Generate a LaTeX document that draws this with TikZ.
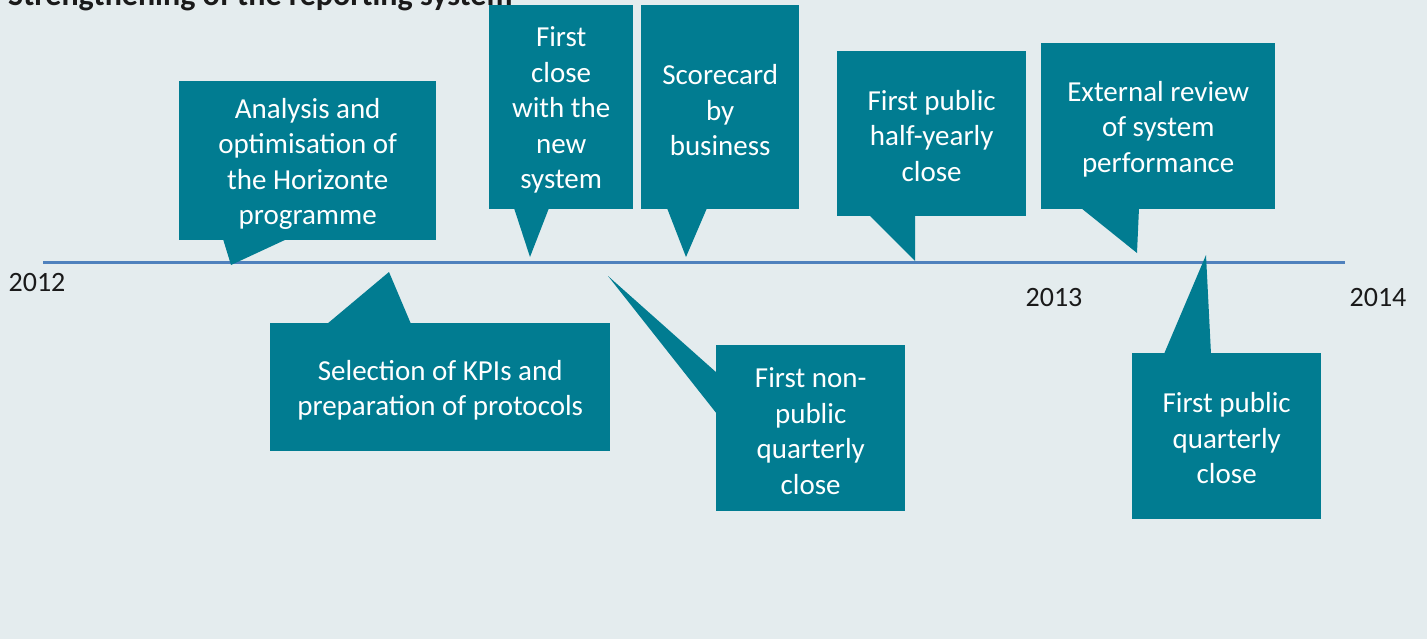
\documentclass[tikz,border=0pt]{standalone}
\usepackage{fontspec}
\setmainfont{Carlito}
\definecolor{bg}{HTML}{E4ECEE}
\definecolor{teal}{HTML}{017C91}
\definecolor{tline}{HTML}{4F81BD}
\definecolor{ink}{HTML}{1A1A1A}
\begin{document}
\begin{tikzpicture}[x=1pt,y=-1pt,
  box/.style={fill=teal,draw=none,inner sep=0pt,anchor=north west},
  btext/.style={text=white,align=center,inner sep=0pt,
    font=\fontsize{29}{35.5}\selectfont},
  ptr/.style={fill=teal,draw=none},
  year/.style={text=ink,font=\fontsize{28}{32}\selectfont,inner sep=0pt}]
\fill[bg] (0,0) rectangle (1427,639);
\useasboundingbox (0,0) rectangle (1427,639);
% timeline
\draw[tline,line width=3pt] (43,262) coordinate (ls) -- (1345,262) coordinate (le);
% boxes
\node[box,minimum width=257pt,minimum height=159pt] (b1) at (179,81) {};
\node[btext] (b1t) at ([yshift=-3pt]b1.center) {Analysis and\\optimisation of\\the Horizonte\\programme};
\fill[ptr] (223,239) -- (231,265) coordinate (t1) -- (287,239) -- cycle;
\node[box,minimum width=340pt,minimum height=128pt] (b2) at (270,323) {};
\node[btext] (b2t) at ([yshift=-3pt]b2.center) {Selection of KPIs and\\preparation of protocols};
\fill[ptr] (327,324) -- (389,272) coordinate (t2) -- (411,324) -- cycle;
\node[box,minimum width=144pt,minimum height=204pt] (b3) at (489,5) {};
\node[btext] (b3t) at ([yshift=-3pt]b3.center) {First\\close\\with the\\new\\system};
\fill[ptr] (514,208) -- (530,257) coordinate (t3) -- (549,208) -- cycle;
\node[box,minimum width=158pt,minimum height=204pt] (b4) at (641,5) {};
\node[btext] (b4t) at ([yshift=-3pt]b4.center) {Scorecard\\by\\business};
\fill[ptr] (667,208) -- (686,257) coordinate (t4) -- (707,208) -- cycle;
\node[box,minimum width=189pt,minimum height=166pt] (b5) at (716,345) {};
\node[btext] (b5t) at ([yshift=-3pt]b5.center) {First non-\\public\\quarterly\\close};
\fill[ptr] (717,373) -- (608,276) coordinate (t5) -- (717,414) -- cycle;
\node[box,minimum width=189pt,minimum height=165pt] (b6) at (837,51) {};
\node[btext] (b6t) at ([yshift=-2pt]b6.center) {First public\\half-yearly\\close};
\fill[ptr] (869,215) -- (915,261) coordinate (t6) -- (915,215) -- cycle;
\node[box,minimum width=234pt,minimum height=166pt] (b7) at (1041,43) {};
\node[btext] (b7t) at ([yshift=-3pt]b7.center) {External review\\of system\\performance};
\fill[ptr] (1081,208) -- (1137,253) coordinate (t7) -- (1139,208) -- cycle;
\node[box,minimum width=189pt,minimum height=166pt] (b8) at (1132,353) {};
\node[btext] (b8t) at ([yshift=-2pt]b8.center) {First public\\quarterly\\close};
\fill[ptr] (1164,354) -- (1206,255) coordinate (t8) -- (1211,354) -- cycle;
% title
\node[anchor=base west,inner sep=0pt,text=ink,font=\fontsize{32}{36}\selectfont\bfseries] (title) at (8,6) {Strengthening of the reporting system};
% years
\node[year] (y12) at (37,283) {2012};
\node[year] (y13) at (1054,298) {2013};
\node[year] (y14) at (1378,298) {2014};
\end{tikzpicture}
\end{document}
